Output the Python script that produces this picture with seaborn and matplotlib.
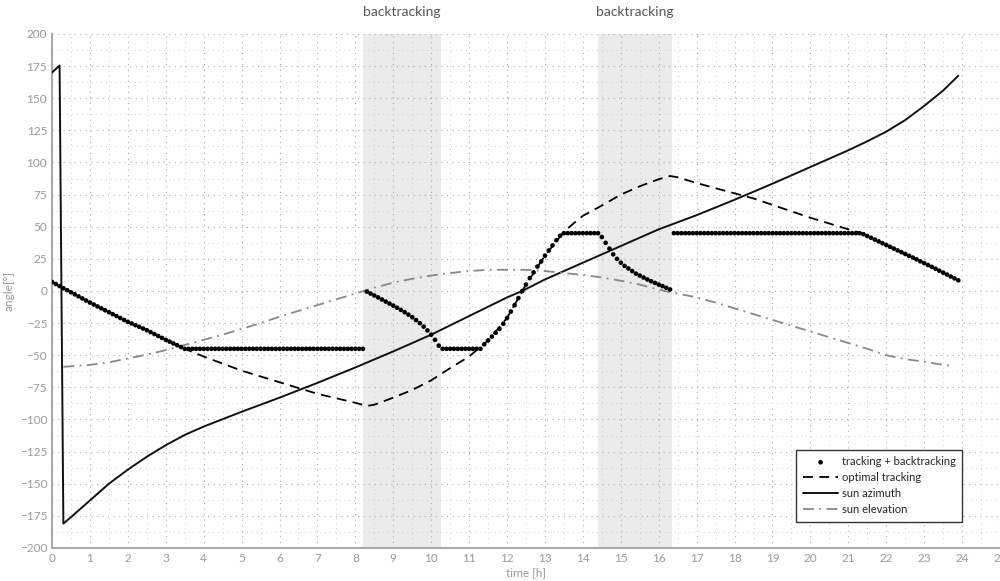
import numpy as np
import pandas as pd
import seaborn as sns
import matplotlib.pyplot as plt
from matplotlib.ticker import MultipleLocator

# values
azimuth_time = [0.0, 0.2, 0.3, 0.5, 1, 1.5, 2, 2.5, 3, 3.5, 4, 5, 6, 7, 8, 9, 10, 11, 12,
                12.4, 13, 14, 15, 16, 17, 18, 19, 20, 21, 21.5, 22, 22.5, 23, 23.5, 23.9]
azimuth_deg = [170, 175.5, -181, -176, -163, -150, -139, -129, -120, -112, -105.5, -94, -83,
               -71.5, -59.5, -47, -34, -19.5, -5, 0, 9, 22, 35, 48, 59, 71, 83.5, 96.5,
               109.5, 116.5, 124, 133, 144, 156, 167.5]

elevation_time = [0.3, 1, 1.5, 2, 2.5, 3, 3.5, 4, 4.5, 5, 5.5, 6, 6.5, 7, 7.5, 8, 8.5, 9,
                  9.5, 10, 10.5, 11, 11.5, 12, 12.5, 13, 13.5, 14, 14.5, 15, 15.5, 16, 16.5,
                  17, 17.5, 18, 18.5, 19, 19.5, 20, 20.5, 21, 21.5, 22, 22.5, 23, 23.5, 23.8]
elevation_deg = [-59, -57.5, -55.5, -52.5, -49.5, -46, -42, -38, -34, -29.5, -25, -20, -15.5,
                 -11, -6.5, -2, 2.5, 6.5, 9.5, 12, 14, 15.5, 16.5, 16.5, 16.5, 15.5, 14, 12.5,
                 10.5, 8, 5, 1, -2, -5, -9, -13.5, -18, -22.5, -27, -31.5, -36, -40.5, -45,
                 -50, -53, -55, -57.5, -58.5]

optimal_time = [0, 0.5, 1, 1.5, 2, 2.5, 3, 3.5, 4, 4.5, 5, 5.5, 6, 6.5, 7, 7.5, 8, 8.3, 8.5,
                9, 9.5, 10, 10.5, 11, 11.5, 12, 12.5, 13, 13.5, 13.75, 14, 14.5, 15, 15.5,
                16, 16.3, 16.5, 17, 17.5, 18, 18.5, 19, 19.5, 20, 20.5, 21, 21.35, 22, 22.5,
                23, 23.5, 23.9]
optimal_deg = [7, -1, -9, -16.5, -24, -30.5, -38, -45, -51, -56.5, -62, -66.5, -71, -75.5,
               -80, -83.5, -87, -89.5, -88.5, -83, -77, -69.5, -60, -51, -38.5, -21, 5, 27.5,
               46, 52.5, 58.5, 66.5, 75, 81.5, 87, 89.5, 88.5, 84, 80, 76, 72, 67, 62, 57,
               52.5, 48, 45, 35.8, 28.8, 21.7, 14.3, 8.3]

# tracking + backtracking, one dot every 0.1 h from 0.0 to 23.9
tracking_deg = [
    7, 5.4, 3.8, 2.2, 0.6, -1, -2.6, -4.2, -5.8, -7.4,
    -9, -10.5, -12, -13.5, -15, -16.5, -18, -19.5, -21, -22.5,
    -24, -25.3, -26.6, -27.9, -29.2, -30.5, -32, -33.5, -35, -36.5,
    -38, -39.4, -40.8, -42.2, -43.6, -45, -45, -45, -45, -45,
    -45, -45, -45, -45, -45, -45, -45, -45, -45, -45,
    -45, -45, -45, -45, -45, -45, -45, -45, -45, -45,
    -45, -45, -45, -45, -45, -45, -45, -45, -45, -45,
    -45, -45, -45, -45, -45, -45, -45, -45, -45, -45,
    -45, -45, -45, -0.5, -2, -3.5, -5, -6.6, -8.2, -9.8,
    -11.4, -13, -14.7, -16.5, -18.4, -20.4, -22.6, -25, -27.7, -30.7,
    -34, -38, -42.5, -45, -45, -45, -45, -45, -45, -45,
    -45, -45, -45, -45, -41.5, -38.5, -35.5, -32.5, -29.5, -25.5,
    -21, -16, -11, -5.5, 0, 5, 10, 14.5, 19, 23,
    27.5, 31.5, 35.5, 39.5, 43, 45, 45, 45, 45, 45,
    45, 45, 45, 45, 45, 42, 37.5, 33, 28.5, 25,
    22, 19.5, 17.5, 15.5, 13.5, 12, 10.5, 9, 7.6, 6.3,
    5, 3.8, 2.5, 1.2, 45, 45, 45, 45, 45, 45,
    45, 45, 45, 45, 45, 45, 45, 45, 45, 45,
    45, 45, 45, 45, 45, 45, 45, 45, 45, 45,
    45, 45, 45, 45, 45, 45, 45, 45, 45, 45,
    45, 45, 45, 45, 45, 45, 45, 45, 45, 45,
    45, 45, 45, 45, 44.2, 42.8, 41.4, 40, 38.6, 37.2,
    35.8, 34.4, 33, 31.6, 30.2, 28.8, 27.4, 26, 24.6, 23.1,
    21.7, 20.2, 18.8, 17.3, 15.8, 14.3, 12.8, 11.3, 9.8, 8.3,
]
tracking_time = np.round(np.arange(len(tracking_deg)) * 0.1, 1)

backtrack_spans = [(8.2, 10.25), (14.4, 16.35)]
span_label = "backtracking"

sns.set_style("white")
plt.rcParams['font.family'] = ['Lato', 'DejaVu Sans']

fig = plt.figure(figsize=(10, 5.81), dpi=100)
ax = fig.add_axes([0.052, 0.0568, 0.948, 0.8847])

for lo, hi in backtrack_spans:
    ax.axvspan(lo, hi, color='#ebebeb', lw=0, zorder=0.1)
    ax.text((lo + hi) / 2, 1.043, span_label, transform=ax.get_xaxis_transform(),
            ha='center', va='center', fontsize=10, color='#555555')

track_df = pd.DataFrame({'time': tracking_time, 'angle': tracking_deg})
sns.scatterplot(data=track_df, x='time', y='angle', s=11, color='black',
                edgecolor='none', label='tracking + backtracking', ax=ax, zorder=4)
sns.lineplot(x=optimal_time, y=optimal_deg, color='black', lw=1.3,
             linestyle=(0, (5.5, 3.5)), label='optimal tracking', ax=ax, zorder=3)
sns.lineplot(x=azimuth_time, y=azimuth_deg, color='#111111', lw=1.4,
             label='sun azimuth', ax=ax, zorder=3, sort=False)
sns.lineplot(x=elevation_time, y=elevation_deg, color='#888888', lw=1.3,
             linestyle=(0, (6, 3, 1, 3)), label='sun elevation', ax=ax, zorder=3)

ax.set_xlim(0, 25)
ax.set_ylim(-200, 200)
ax.xaxis.set_major_locator(MultipleLocator(1))
ax.xaxis.set_minor_locator(MultipleLocator(0.5))
ax.yaxis.set_major_locator(MultipleLocator(25))
ax.yaxis.set_minor_locator(MultipleLocator(12.5))
ax.grid(which='major', color='#aaaaaa', linestyle=(0, (1, 4)), lw=0.8)
ax.grid(which='minor', color='#cccccc', linestyle=(0, (1, 4)), lw=0.7)
ax.set_axisbelow(True)

for s in ['top', 'right']:
    ax.spines[s].set_visible(False)
for s in ['left', 'bottom']:
    ax.spines[s].set_color('#aaaaaa')
    ax.spines[s].set_linewidth(1.5)
ax.tick_params(which='major', direction='in', length=6, width=1, color='#aaaaaa',
               labelcolor='#999999', labelsize=8.5)
ax.tick_params(which='minor', direction='in', length=3, width=0.8, color='#bbbbbb')
ax.set_xlabel('time [h]', color='#999999', fontsize=8.5, labelpad=2)
ax.set_ylabel('angle[°]', color='#999999', fontsize=8.5)
ax.yaxis.set_label_coords(-0.04, 0.5)

leg = ax.legend(loc='lower right', bbox_to_anchor=(0.966, 0.04), fontsize=8,
                frameon=True, fancybox=False, edgecolor='#333333', framealpha=1,
                handlelength=3.2, borderpad=0.6, labelspacing=0.45, handletextpad=0.3)
leg.get_frame().set_linewidth(1)

fig.savefig('out.png', dpi=100)
